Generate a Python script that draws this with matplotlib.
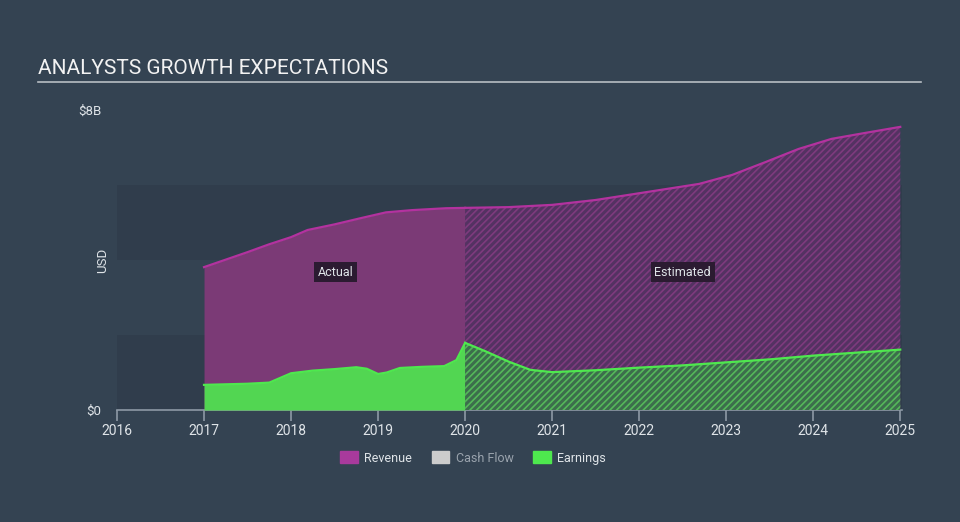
import matplotlib
matplotlib.use("Agg")
import matplotlib.pyplot as plt
from matplotlib.patches import Patch

plt.rcParams['font.family'] = ['Roboto', 'DejaVu Sans']
plt.rcParams['hatch.linewidth'] = 1.2

# Revenue (USD billions) - actual and estimated
rev_act_x = [2017.0, 2017.25, 2017.5, 2017.75, 2018.0, 2018.19, 2018.5, 2018.79, 2019.09, 2019.39, 2019.78, 2020.0]
rev_act_y = [3.81, 4.01, 4.21, 4.42, 4.61, 4.80, 4.95, 5.11, 5.27, 5.33, 5.38, 5.39]
rev_est_x = [2020.0, 2020.5, 2021.0, 2021.5, 2022.0, 2022.69, 2023.07, 2023.45, 2023.83, 2024.21, 2024.6, 2025.0]
rev_est_y = [5.39, 5.41, 5.47, 5.60, 5.78, 6.03, 6.27, 6.61, 6.96, 7.23, 7.39, 7.55]

# Earnings (USD billions)
earn_act_x = [2017.0, 2017.5, 2017.75, 2017.9, 2018.0, 2018.25, 2018.5, 2018.75, 2018.87, 2019.0, 2019.1, 2019.25, 2019.5, 2019.76, 2019.9, 2020.0]
earn_act_y = [0.67, 0.70, 0.73, 0.88, 0.98, 1.05, 1.09, 1.14, 1.10, 0.96, 1.00, 1.12, 1.15, 1.17, 1.33, 1.79]
earn_est_x = [2020.0, 2020.25, 2020.5, 2020.75, 2021.0, 2021.5, 2022.0, 2022.5, 2023.0, 2023.5, 2024.0, 2024.5, 2025.0]
earn_est_y = [1.79, 1.55, 1.29, 1.07, 1.01, 1.06, 1.13, 1.19, 1.27, 1.35, 1.45, 1.53, 1.61]

years = list(range(2016, 2026))

bg = '#344352'
band = '#303d4c'
rev_fill = '#7b3a76'
rev_line = '#b3329f'
earn_fill = '#52d652'
earn_line = '#4ee84e'
txt = '#dfe4e8'

fig = plt.figure(figsize=(9.6, 5.22), dpi=100, facecolor=bg)
ax = fig.add_axes([117 / 960, 1 - 410 / 522, 785 / 960, 300 / 522])
ax.set_facecolor(bg)

ax.axhspan(0, 2, color=band, lw=0, zorder=0)
ax.axhspan(4, 6, color=band, lw=0, zorder=0)

# revenue
ax.fill_between(rev_act_x, 0, rev_act_y, color=rev_fill, lw=0, zorder=2)
ax.fill_between(rev_est_x, 0, rev_est_y, facecolor='#543262', edgecolor='#7e3b7e',
                hatch='/////', lw=0, zorder=2)
ax.plot(rev_act_x, rev_act_y, color=rev_line, lw=1.6, zorder=4)
ax.plot(rev_est_x, rev_est_y, color=rev_line, lw=1.6, zorder=4)

# earnings
ax.fill_between(earn_act_x, 0, earn_act_y, color=earn_fill, lw=0, zorder=3)
ax.fill_between(earn_est_x, 0, earn_est_y, facecolor='#3c6e4c', edgecolor='#55b85a',
                hatch='/////', lw=0, zorder=3)
ax.plot(earn_act_x, earn_act_y, color=earn_line, lw=1.6, zorder=4)
ax.plot(earn_est_x, earn_est_y, color=earn_line, lw=1.6, zorder=4)

ax.set_xlim(2016, 2025.02)
ax.set_ylim(0, 8)
ax.set_xticks(years)
ax.set_xticklabels([str(y) for y in years])
ax.set_yticks([0, 8])
ax.set_yticklabels(['$0', '$8B'])
ax.tick_params(axis='x', colors='#8d99a6', length=8, width=1.2, labelcolor=txt, labelsize=10, pad=2)
ax.tick_params(axis='y', length=0, labelcolor=txt, labelsize=9.5, pad=11)
for s in ['top', 'right', 'left']:
    ax.spines[s].set_visible(False)
ax.spines['bottom'].set_color('#8d99a6')
ax.spines['bottom'].set_linewidth(1.2)

box = dict(boxstyle='square,pad=0.3', fc='#2b1b31', ec='none')
ax.text(2018.51, 3.68, 'Actual', color=txt, fontsize=9, ha='center', va='center', bbox=box, zorder=6)
ax.text(2022.5, 3.68, 'Estimated', color=txt, fontsize=9, ha='center', va='center', bbox=box, zorder=6)

fig.text(103 / 960, 1 - 260 / 522, 'USD', rotation=90, color=txt, fontsize=9.5, ha='center', va='center')

fig.text(38 / 960, 1 - 69 / 522, 'ANALYSTS GROWTH EXPECTATIONS', color='#f2f2f2', fontsize=15,
         ha='left', va='center')
fig.add_artist(plt.Line2D([38 / 960, 921 / 960], [1 - 82 / 522, 1 - 82 / 522], color='#b8bec4', lw=1.2))

handles = [Patch(color='#a83a9c'), Patch(color='#cccccc'), Patch(color='#4ee84e')]
leg = fig.legend(handles, ['Revenue', 'Cash Flow', 'Earnings'], loc='center', ncol=3,
                 bbox_to_anchor=(473 / 960, 1 - 458 / 522), frameon=False, fontsize=9,
                 handlelength=1.4, handleheight=1.1, columnspacing=1.6, handletextpad=0.5)
for t, c in zip(leg.get_texts(), [txt, '#9aa3ad', txt]):
    t.set_color(c)

fig.savefig('out.png', dpi=100, facecolor=bg)
